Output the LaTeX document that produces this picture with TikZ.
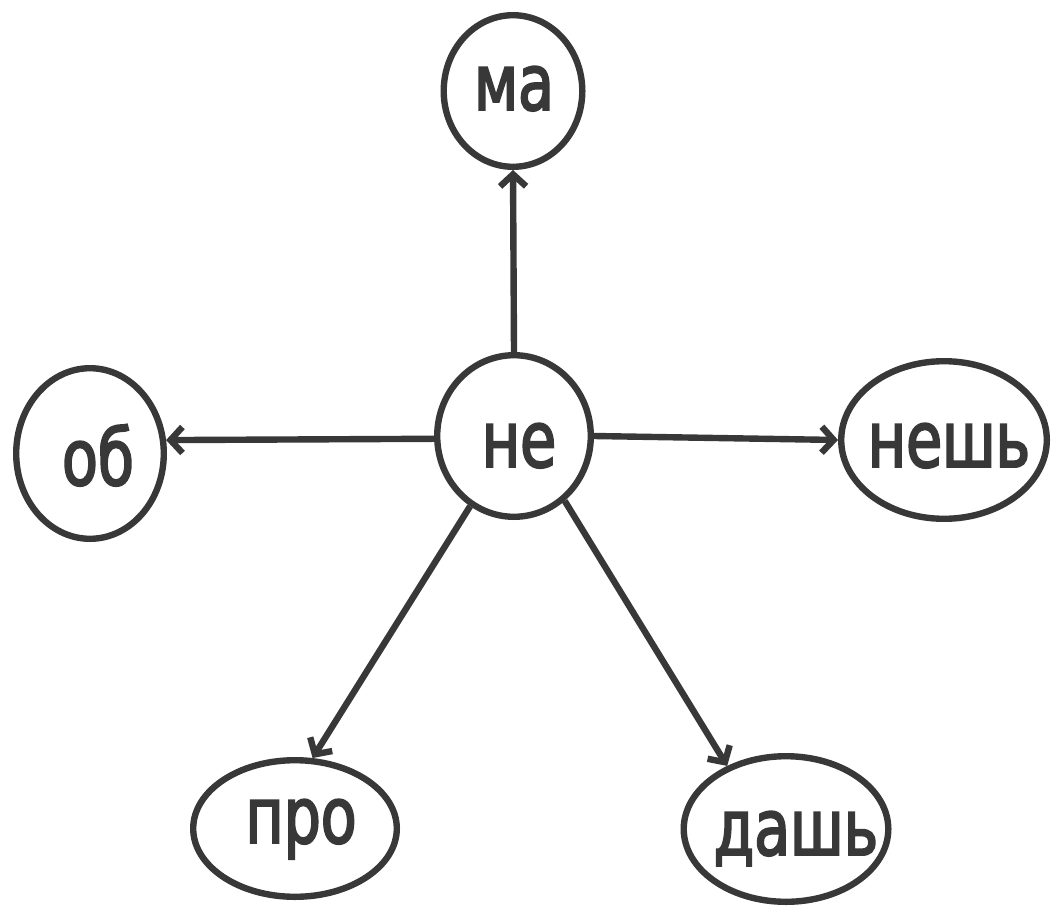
\documentclass[tikz,border=0pt]{standalone}
\usepackage{fontspec}
\newfontfamily\lblfont[FakeStretch=0.75,FakeBold=2.5]{DejaVu Sans}
\usetikzlibrary{shapes.geometric,arrows.meta}
\definecolor{ink}{HTML}{383838}
\begin{document}
\begin{tikzpicture}[x=0.5pt,y=-0.5pt,
  bubble/.style={ellipse,draw=ink,line width=3.2pt,inner sep=0pt},
  word/.style={anchor=base,text=ink,inner sep=0pt,font=\lblfont\fontsize{39pt}{39pt}\selectfont},
  arr/.style={draw=ink,line width=3.2pt,-{Straight Barb[length=6pt,width=13pt]}}]
\useasboundingbox (0,0) rectangle (1053,909);
\fill[white] (0,0) rectangle (1053,909);
% ellipses
\node[bubble,minimum width=69.3pt,minimum height=75.8pt] (ma) at (513,91) {};
\node[bubble,minimum width=76.8pt,minimum height=80.8pt] (ne) at (514,436) {};
\node[bubble,minimum width=73.8pt,minimum height=85.3pt] (ob) at (90,453.5) {};
\node[bubble,minimum width=102.8pt,minimum height=78.8pt] (nesh) at (944,440) {};
\node[bubble,minimum width=101.8pt,minimum height=68.3pt] (pro) at (295,828.5) {};
\node[bubble,minimum width=102.3pt,minimum height=72.8pt] (dash) at (786,829) {};
% words
\node[word] (ma-t) at (514,110) {ма};
\node[word] (ne-t) at (519,467) {не};
\node[word] (ob-t) at (98,485) {об};
\node[word] (nesh-t) at (949,467) {нешь};
\node[word] (pro-t) at (301,843) {про};
\node[word] (dash-t) at (796,855) {дашь};
% arrows
\draw[arr] (ne.north) -- (ma.south);
\draw[arr] (ne.182) -- (ob.10);
\draw[arr] (ne.east) -- (nesh.west);
\draw[arr] (ne.238) -- (pro.76);
\draw[arr] (ne.308) -- (dash.133);
\end{tikzpicture}
\end{document}
